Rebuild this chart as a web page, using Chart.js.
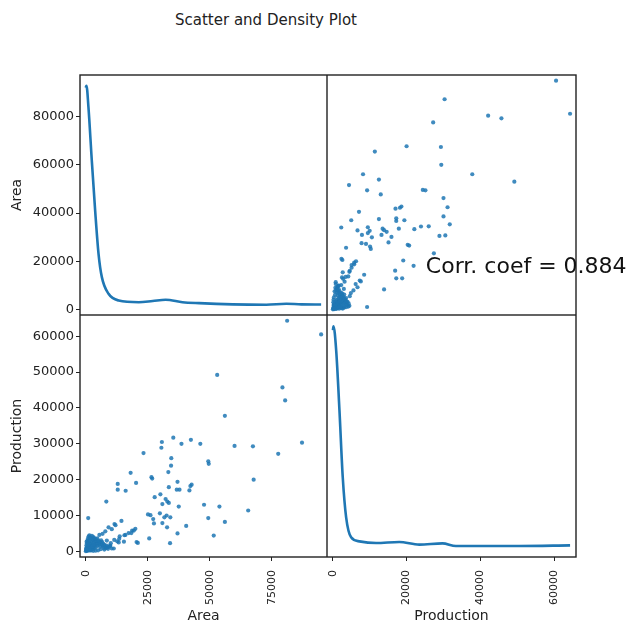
<!DOCTYPE html>
<html lang="en">
<head>
<meta charset="UTF-8">
<title>Scatter and Density Plot</title>
<script src="https://cdn.jsdelivr.net/npm/chart.js"></script>
<style>
  body { margin: 0; background: #fff; }
  #pagina { position: relative; width: 627px; height: 627px; overflow: hidden; }
  .quadro { position: absolute; }
  #titulo { position: absolute; left: 0; top: 11px; width: 532px; text-align: center;
            font: 15px "DejaVu Sans"; color: #222; }
</style>
</head>
<body>
<div id="pagina">
  <div id="titulo">Scatter and Density Plot</div>
  <canvas id="g1" class="quadro" width="327" height="245" style="left:0;top:70px"></canvas>
  <canvas id="g2" class="quadro" width="300" height="245" style="left:327px;top:70px"></canvas>
  <canvas id="g3" class="quadro" width="327" height="312" style="left:0;top:315px"></canvas>
  <canvas id="g4" class="quadro" width="300" height="312" style="left:327px;top:315px"></canvas>
</div>

<script>
    // dados (Area x Production)
    var area = [
        81200, 94900, 53000, 79300, 80400, 56100, 87200, 77600, 60000, 67400,
        67700, 65500, 35300, 42400, 46200, 38600, 30700, 30500, 23300, 34500,
        34400, 33300, 18100, 26500, 26800, 20300, 37000, 12900, 12900, 16100,
        33500, 36700, 37800, 41800, 42700, 42200, 30100, 27800, 32200, 32900,
        33500, 30900, 37500, 47700, 53900, 25100, 26100, 29900, 27200, 32600,
        34100, 31700, 49400, 27500, 30900, 32800, 40500, 56100, 37000, 51600,
        25600, 34000, 49600, 49400, 8300, 1000, 20500, 20000, 19400, 18400,
        14400, 15600, 15400, 11600, 9200, 10500, 13500, 10100, 11500, 7900,
        17300, 16000, 13700, 8500, 13300, 9900, 18700, 11300, 21000, 12700,
        60, 250, 400, 520, 680, 800, 950, 1100, 1250, 1400,
        1550, 1700, 1850, 2000, 2150, 2300, 2450, 2600, 2750, 2900,
        3050, 3200, 3350, 3500, 3650, 3800, 3950, 4100, 4250, 4400,
        4550, 4700, 4850, 5000, 5200, 5400, 5600, 5800, 6000, 6200,
        6400, 6600, 6800, 7000, 7200, 7500, 7800, 8100, 8400, 8700,
        9000, 9400, 300, 500, 700, 900, 1200, 1500, 1800, 600,
        200, 350, 1000, 1300, 1650, 2100, 2500, 2800, 3100, 3400,
        150, 450, 750, 1050, 1350, 1600, 1950, 2200, 2700, 3300,
        5000, 6000, 7500, 9800, 10500, 4000, 3000, 5500, 6800, 12000
    ];
    var producao = [
        64300, 60500, 49200, 45700, 42100, 37800, 30300, 27200, 29400, 29300,
        20000, 11400, 31700, 31100, 30000, 30000, 30500, 28900, 27400, 26000,
        23900, 22100, 21900, 20700, 20300, 19100, 19400, 18800, 17200, 16900,
        17900, 17200, 17200, 17000, 18600, 18200, 15900, 15100, 14600, 13900,
        13500, 13200, 12500, 13000, 12500, 10300, 10100, 10600, 9000, 10000,
        9500, 9500, 9300, 7800, 7900, 6700, 7100, 8200, 5000, 4400,
        3600, 2300, 24400, 25100, 13900, 9300, 2600, 6300, 5800, 5100,
        8500, 4500, 2700, 7600, 6700, 6200, 3500, 2300, 3200, 5600,
        5100, 4600, 4200, 3000, 2500, 1600, 5800, 800, 2350, 2800,
        40, 310, 150, 600, 420, 900, 220, 1300, 700, 480,
        1800, 1100, 350, 2200, 1500, 900, 2600, 600, 1900, 3100,
        1250, 2400, 800, 3200, 1700, 2600, 1100, 3400, 2100, 2900,
        1500, 3600, 2300, 3000, 1800, 2700, 2200, 1300, 2500, 3100,
        1900, 2600, 1500, 2200, 1000, 1800, 1400, 900, 1600, 1100,
        700, 1300, 1700, 2300, 3000, 3600, 4200, 4500, 3900, 1200,
        900, 2700, 2500, 3200, 2900, 3700, 4300, 3500, 4000, 3700,
        400, 1000, 1600, 2000, 650, 250, 750, 300, 1400, 1900,
        300, 600, 500, 1500, 800, 200, 150, 4600, 4900, 7300
    ];

    var densAreaX = [0, 300, 1100, 2450, 3800, 5150, 6500, 9200, 13300, 21400, 27000, 32200, 39000, 45700, 59200, 72800, 80900, 87000, 94900];
    var densAreaY = [92000, 92800, 83800, 61700, 41000, 23200, 13400, 6500, 3700, 3000, 3500, 4000, 3000, 2600, 2100, 1950, 2350, 2100, 2070];
    var densProdX = [40, 190, 920, 1810, 2700, 3620, 4970, 7220, 11730, 18000, 23430, 29730, 33350, 41460, 50460, 64300];
    var densProdY = [61650, 62770, 56060, 39300, 20670, 9500, 3910, 2790, 2350, 2630, 1870, 2230, 1500, 1500, 1500, 1680];

    var ticksAreaX = [0, 25000, 50000, 75000];
    var ticksAreaY = [0, 20000, 40000, 60000, 80000];
    var ticksProdX = [0, 20000, 40000, 60000];
    var ticksProdY = [0, 10000, 20000, 30000, 40000, 50000, 60000];

    var coefCorr = 0.884;

    // limites como no pandas: min/max +- 2.5%
    function limites(v) {
        var mn = Math.min.apply(null, v), mx = Math.max.apply(null, v);
        var ext = (mx - mn) * 0.05 / 2;
        return [mn - ext, mx + ext];
    }
    var limArea = limites(area);
    var limProd = limites(producao);

    Chart.defaults.font.family = 'DejaVu Sans';
    var corTexto = '#222';
    var azul = '#1f77b4';
    var fonteTickX = { family: 'DejaVu Sans', size: 11 };
    var fonteTickY = { family: 'DejaVu Sans', size: 13 };
    var fonteTitulo = { family: 'DejaVu Sans', size: 14 };

    function eixoX(lim, marcas, titulo) {
        if (!marcas) return { type: 'linear', display: false, min: lim[0], max: lim[1] };
        return {
            type: 'linear', position: 'bottom', min: lim[0], max: lim[1],
            afterBuildTicks: function (s) { s.ticks = marcas.map(function (v) { return { value: v }; }); },
            afterFit: function (s) { s.height = 70; s.paddingLeft = 0; s.paddingRight = 0; },
            grid: { drawOnChartArea: false, tickLength: 4, color: corTexto, lineWidth: 1 },
            border: { display: false },
            ticks: { minRotation: 90, maxRotation: 90, autoSkip: false, padding: 9, color: corTexto, font: fonteTickX,
                     callback: function (v) { return String(v); } },
            title: { display: true, text: titulo, color: corTexto, font: fonteTitulo, padding: { top: 0, bottom: 2 } }
        };
    }

    function eixoY(lim, marcas, titulo) {
        if (!marcas) return { type: 'linear', display: false, min: lim[0], max: lim[1] };
        return {
            type: 'linear', position: 'left', min: lim[0], max: lim[1],
            afterBuildTicks: function (s) { s.ticks = marcas.map(function (v) { return { value: v }; }); },
            afterFit: function (s) { s.width = 80; s.paddingTop = 0; s.paddingBottom = 0; },
            grid: { drawOnChartArea: false, tickLength: 4, color: corTexto, lineWidth: 1 },
            border: { display: false },
            ticks: { autoSkip: false, padding: 2, color: corTexto, font: fonteTickY,
                     callback: function (v) { return String(v); } },
            title: { display: true, text: titulo, color: corTexto, font: fonteTitulo, padding: { top: 9, bottom: 0 } }
        };
    }

    var moldura = {
        id: 'moldura',
        afterDraw: function (chart) {
            var a = chart.chartArea, ctx = chart.ctx;
            ctx.save();
            ctx.strokeStyle = '#222';
            ctx.lineWidth = 1.4;
            ctx.strokeRect(a.left, a.top, a.right - a.left, a.bottom - a.top);
            ctx.restore();
        }
    };

    var textoCorr = {
        id: 'textoCorr',
        afterDraw: function (chart) {
            var a = chart.chartArea, ctx = chart.ctx;
            ctx.save();
            ctx.font = '22px "DejaVu Sans"';
            ctx.fillStyle = '#111';
            ctx.textAlign = 'center';
            ctx.textBaseline = 'middle';
            ctx.fillText('Corr. coef = ' + coefCorr.toFixed(3), a.left + 0.8 * (a.right - a.left), a.bottom - 0.2 * (a.bottom - a.top));
            ctx.restore();
        }
    };

    function pontos(xs, ys) {
        return xs.map(function (v, i) { return { x: v, y: ys[i] }; });
    }

    function dispersao(dados) {
        return { type: 'scatter', data: dados, pointRadius: 2.1, pointBackgroundColor: 'rgba(31,119,180,0.85)', pointBorderWidth: 0 };
    }

    function densidade(dados) {
        return { type: 'line', data: dados, showLine: true, pointRadius: 0, borderColor: azul, borderWidth: 2.6,
                 cubicInterpolationMode: 'monotone', fill: false };
    }

    function grafico(id, datasets, escX, escY, padding, extras) {
        var ctx = document.getElementById(id).getContext('2d');
        return new Chart(ctx, {
            type: 'scatter',
            data: { datasets: datasets },
            options: {
                responsive: false,
                animation: false,
                events: [],
                layout: { padding: padding, autoPadding: false },
                scales: { x: escX, y: escY },
                plugins: { legend: { display: false }, tooltip: { enabled: false } }
            },
            plugins: [moldura].concat(extras || [])
        });
    }

    // Area x Area (densidade)
    grafico('g1', [densidade(pontos(densAreaX, densAreaY))],
        eixoX(limArea, null), eixoY(limArea, ticksAreaY, 'Area'),
        { top: 5, right: 0, bottom: 0, left: 0 });

    // Production x Area
    grafico('g2', [dispersao(pontos(producao, area))],
        eixoX(limProd, null), eixoY(limArea, null),
        { top: 5, right: 51, bottom: 0, left: 0 }, [textoCorr]);

    // Area x Production
    grafico('g3', [dispersao(pontos(area, producao))],
        eixoX(limArea, ticksAreaX, 'Area'), eixoY(limProd, ticksProdY, 'Production'),
        { top: 0, right: 0, bottom: 0, left: 0 });

    // Production x Production (densidade)
    grafico('g4', [densidade(pontos(densProdX, densProdY))],
        eixoX(limProd, ticksProdX, 'Production'), eixoY(limProd, null),
        { top: 0, right: 51, bottom: 0, left: 0 });
</script>
</body>
</html>
